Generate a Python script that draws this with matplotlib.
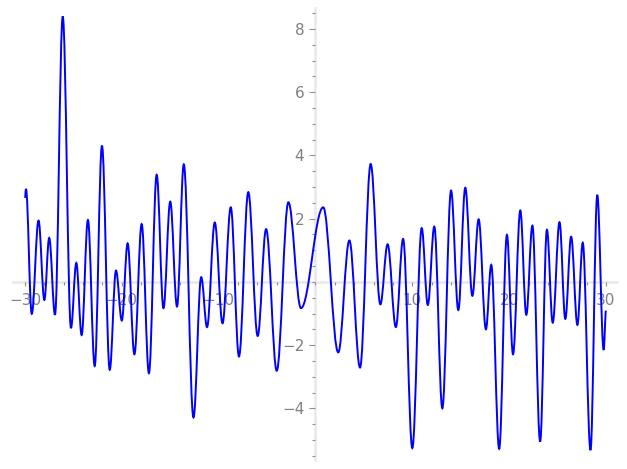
import matplotlib
matplotlib.use("Agg")
import matplotlib.pyplot as plt
import numpy as np
from matplotlib.path import Path
from matplotlib.patches import PathPatch
from matplotlib.ticker import MultipleLocator, FixedLocator

# turning points of the curve (start, peaks/troughs, end)
x_pts = [-30.0, -29.9, -29.3, -28.6, -28.0, -27.5, -26.9, -26.1, -25.25, -24.7,
         -24.15, -23.5, -22.8, -22.05, -21.25, -20.6, -20.0, -19.4, -18.7, -17.95,
         -17.2, -16.4, -15.7, -15.0, -14.3, -13.6, -12.6, -11.8, -11.2, -10.4,
         -9.6, -8.75, -7.9, -6.94, -5.97, -5.1, -4.0, -2.8, -1.5, 0.8,
         2.35, 3.5, 4.6, 5.7, 6.7, 7.45, 8.3, 9.05, 10.0, 10.97,
         11.6, 12.27, 13.1, 14.0, 14.75, 15.47, 16.2, 16.85, 17.6, 18.15,
         18.97, 19.77, 20.4, 21.15, 21.77, 22.4, 23.2, 23.9, 24.5, 25.2,
         25.8, 26.4, 27.05, 27.6, 28.4, 29.1, 29.76, 30.0]
y_pts = [2.66, 2.94, -1.01, 1.94, -0.57, 1.39, -1.04, 8.40, -1.46, 0.60,
         -1.68, 1.96, -2.66, 4.31, -2.78, 0.36, -1.22, 1.22, -2.29, 1.83,
         -2.89, 3.39, -0.83, 2.54, -0.78, 3.72, -4.29, 0.15, -1.43, 1.88,
         -1.31, 2.36, -2.36, 2.84, -1.71, 1.67, -2.81, 2.52, -0.83, 2.36,
         -2.23, 1.31, -2.71, 3.73, -0.71, 1.19, -1.43, 1.36, -5.26, 1.70,
         -0.73, 1.75, -4.0, 2.89, -0.89, 2.98, -0.44, 1.98, -1.50, 0.54,
         -5.28, 1.49, -2.29, 2.26, -1.04, 1.78, -5.05, 1.65, -1.29, 1.89,
         -1.17, 1.43, -1.36, 1.24, -5.32, 2.75, -2.15, -0.91]

x_ticks = [-30, -20, -10, 10, 20, 30]
y_ticks = [-4, -2, 2, 4, 6, 8]

fig = plt.figure(figsize=(6.27, 4.69), dpi=100)
ax = fig.add_axes([0, 0, 1, 1])
ax.set_xlim(-32.58, 32.17)
ax.set_ylim(-5.92, 8.92)

# smooth curve: cubic bezier between turning points, flat at each turning point
k = 0.37
verts = [(x_pts[0], y_pts[0])]
codes = [Path.MOVETO]
for i in range(1, len(x_pts)):
    x0, y0 = x_pts[i - 1], y_pts[i - 1]
    x1, y1 = x_pts[i], y_pts[i]
    dx = x1 - x0
    verts += [(x0 + k * dx, y0), (x1 - k * dx, y1), (x1, y1)]
    codes += [Path.CURVE4] * 3
ax.add_patch(PathPatch(Path(verts, codes), facecolor="none", edgecolor="blue",
                       lw=1.4, zorder=3))

# sage-like axes through the origin
axis_col = "#e8e8e8"
for s in ["top", "right"]:
    ax.spines[s].set_visible(False)
ax.spines["left"].set_position(("data", 0))
ax.spines["bottom"].set_position(("data", 0))
ax.spines["left"].set_bounds(-5.63, 8.67)
ax.spines["bottom"].set_bounds(-31.24, 31.13)
for s in ["left", "bottom"]:
    ax.spines[s].set_color(axis_col)
    ax.spines[s].set_linewidth(1.8)
    ax.spines[s].set_zorder(1)

ax.xaxis.set_major_locator(FixedLocator(x_ticks))
ax.xaxis.set_minor_locator(FixedLocator(np.arange(-30, 31, 2)))
ax.yaxis.set_major_locator(FixedLocator(y_ticks))
ax.yaxis.set_minor_locator(FixedLocator(np.arange(-5.5, 8.6, 0.5)))
ax.tick_params(axis="both", which="both", direction="out", color="#909090",
               labelcolor="#808080", labelsize=11, width=0.8)
ax.tick_params(axis="x", which="major", length=3, pad=5)
ax.tick_params(axis="x", which="minor", length=2)
ax.tick_params(axis="y", which="major", length=4, pad=4)
ax.tick_params(axis="y", which="minor", length=2.5)

fig.savefig("out.png", dpi=100)
